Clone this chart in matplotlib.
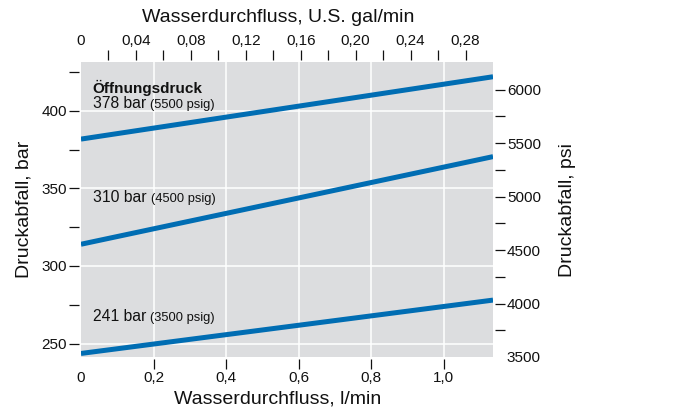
import matplotlib.pyplot as plt
from matplotlib.ticker import FixedLocator, NullLocator

plt.rcParams['font.family'] = ['Liberation Sans', 'DejaVu Sans']

# data
GAL_TO_L = 3.78541
BAR_TO_PSI = 14.5038
flow_lmin = [0.0, 0.3 * GAL_TO_L]
curves = {
    '378 bar': [381.8, 422.0],
    '310 bar': [314.0, 370.5],
    '241 bar': [243.6, 278.0],
}
psig_labels = {'378 bar': '(5500 psig)', '310 bar': '(4500 psig)', '241 bar': '(3500 psig)'}
label_pos = {'378 bar': (0.032, 401.7), '310 bar': (0.032, 341.0), '241 bar': (0.032, 264.5)}

bar_major = [250, 300, 350, 400]
bar_minor = [275, 325, 375, 425]
psi_major = [4000, 4500, 5000, 5500, 6000]
psi_minor = [3750, 4250, 4750, 5250, 5750]
lmin_ticks = [0.2, 0.4, 0.6, 0.8, 1.0]
gal_major = [0.04, 0.08, 0.12, 0.16, 0.20, 0.24, 0.28]
gal_minor = [0.02, 0.06, 0.10, 0.14, 0.18, 0.22, 0.26]

ylim = (3500 / BAR_TO_PSI, 431.5)
xlim = (0.0, 0.3 * GAL_TO_L)

LINE = '#006db3'
BG = '#dcdddf'
TXT = '#111111'


def de(v, fmt):
    return fmt.format(v).replace('.', ',')


fig = plt.figure(figsize=(6.86, 4.12), dpi=100)
ax = fig.add_axes([0.118, 0.1335, 0.6007, 0.716])
ax.set_facecolor(BG)
ax.set_xlim(*xlim)
ax.set_ylim(*ylim)

for x in lmin_ticks:
    ax.axvline(x, color='white', lw=1.1, zorder=1)
for y in bar_major:
    ax.axhline(y, color='white', lw=1.1, zorder=1)

for name, ys in curves.items():
    ax.plot(flow_lmin, ys, color=LINE, lw=3.6, solid_capstyle='butt', zorder=3)
    tx, ty = label_pos[name]
    t = ax.text(tx, ty, name + ' ', fontsize=11.3, color=TXT, va='baseline', zorder=4)
    ax.annotate(psig_labels[name], xy=(1, 0), xycoords=t, fontsize=9.3,
                color=TXT, va='bottom', ha='left',
                annotation_clip=False)
ax.text(0.032, 411.8, 'Öffnungsdruck', fontsize=11, fontweight='bold',
        color=TXT, va='baseline')

# left / bottom axes
ax.yaxis.set_major_locator(FixedLocator(bar_major))
ax.yaxis.set_minor_locator(FixedLocator(bar_minor))
ax.set_yticklabels([str(v) for v in bar_major])
ax.xaxis.set_major_locator(FixedLocator([0.0] + lmin_ticks))
ax.set_xticklabels(['0'] + [de(v, '{:.1f}') for v in lmin_ticks])
ax.xaxis.set_minor_locator(NullLocator())

# top / right axes
ax_top = ax.twiny()
ax_top.set_xlim(xlim[0] / GAL_TO_L, xlim[1] / GAL_TO_L)
ax_top.xaxis.set_major_locator(FixedLocator([0.0] + gal_major))
ax_top.set_xticklabels(['0'] + [de(v, '{:.2f}') for v in gal_major])
ax_top.xaxis.set_minor_locator(FixedLocator(gal_minor))

ax_r = ax.twinx()
ax_r.set_ylim(ylim[0] * BAR_TO_PSI, ylim[1] * BAR_TO_PSI)
ax_r.yaxis.set_major_locator(FixedLocator([3500] + psi_major))
ax_r.set_yticklabels([str(v) for v in [3500] + psi_major])
ax_r.yaxis.set_minor_locator(FixedLocator(psi_minor))

for a in (ax, ax_top, ax_r):
    for sp in a.spines.values():
        sp.set_visible(False)
        sp.set_position(('outward', 1.5))
    a.tick_params(which='both', direction='out', length=7, width=0.9,
                  color=TXT, labelcolor=TXT, labelsize=11, pad=1.5)

# hide tick marks at 0 / 3500 (labels only)
ax.xaxis.get_major_ticks()[0].tick1line.set_visible(False)
ax_top.xaxis.get_major_ticks()[0].tick2line.set_visible(False)
ax_r.yaxis.get_major_ticks()[0].tick2line.set_visible(False)

ax.set_xlabel('Wasserdurchfluss, l/min', fontsize=14, color=TXT)
ax.xaxis.set_label_coords(0.478, -0.113)
ax_top.set_xlabel('Wasserdurchfluss, U.S. gal/min', fontsize=14, color=TXT)
ax_top.xaxis.set_label_coords(0.478, 1.136)
ax.set_ylabel('Druckabfall, bar', fontsize=14, color=TXT)
ax.yaxis.set_label_coords(-0.117, 0.5)
ax_r.set_ylabel('Druckabfall, psi', fontsize=14, color=TXT)
ax_r.yaxis.set_label_coords(1.16, 0.5)

fig.savefig('out.png', dpi=100)
